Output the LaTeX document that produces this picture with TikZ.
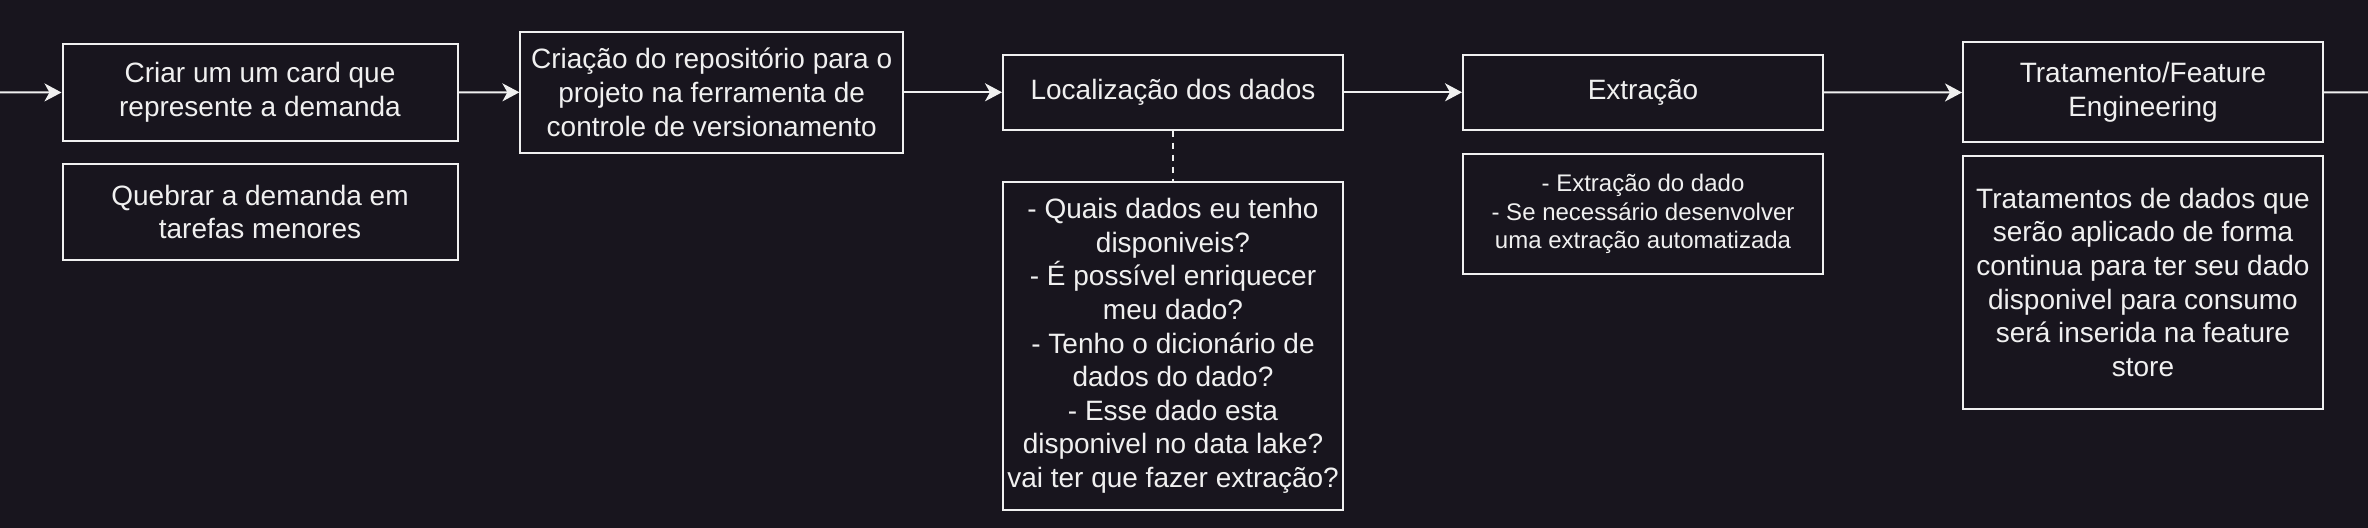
\documentclass[tikz,border=0pt]{standalone}
\usepackage{fontspec}
\setmainfont{Liberation Sans}
\usetikzlibrary{arrows.meta}
\definecolor{bg}{RGB}{24,21,30}
\definecolor{fg}{RGB}{240,240,240}
\begin{document}
\begin{tikzpicture}[x=0.5pt,y=-0.5pt,
  box/.style={draw=fg, line width=1pt, fill=bg, text=fg, inner sep=0pt, align=center,
    font=\fontsize{14}{16.8}\selectfont},
  smallbox/.style={box, font=\fontsize{12}{14.4}\selectfont},
  flow/.style={draw=fg, line width=1pt, -{Stealth[length=8.5pt,width=9pt,inset=2.5pt]}},
  plain/.style={draw=fg, line width=1pt},
  dashline/.style={draw=fg, line width=1pt, dash pattern=on 3pt off 3pt}]
\fill[bg] (0,0) rectangle (2368,528);
\useasboundingbox (0,0) rectangle (2368,528);

\node[box, minimum width=197.5pt, minimum height=48.5pt] (card) at (260,92.5)
  {Criar um um card que\\represente a demanda};
\node[box, minimum width=197.5pt, minimum height=48.2pt] (quebrar) at (260,212)
  {Quebrar a demanda em\\tarefas menores};
\node[box, minimum width=191.3pt, minimum height=60.25pt] (repo) at (711.7,92.3)
  {Criação do repositório para o\\projeto na ferramenta de\\controle de versionamento};
\node[box, minimum width=170pt, minimum height=37.3pt] (local) at (1173,92.3)
  {Localização dos dados};
\node[box, minimum width=170pt, minimum height=164pt] (localdesc) at (1173,346)
  {- Quais dados eu tenho\\disponiveis?\\- É possível enriquecer\\meu dado?\\- Tenho o dicionário de\\dados do dado?\\- Esse dado esta\\disponivel no data lake?\\vai ter que fazer extração?};
\node[box, minimum width=180pt, minimum height=37.3pt] (extr) at (1643,92.3)
  {Extração};
\node[smallbox, minimum width=180pt, minimum height=60pt] (extrdesc) at (1643,214)
  {- Extração do dado\\- Se necessário desenvolver\\uma extração automatizada};
\node[box, minimum width=180pt, minimum height=50pt] (trat) at (2143,92.5)
  {Tratamento/Feature\\Engineering};
\node[box, minimum width=180pt, minimum height=126.7pt] (tratdesc) at (2143,282.3)
  {Tratamentos de dados que\\serão aplicado de forma\\continua para ter seu dado\\disponivel para consumo\\será inserida na feature\\store};

\coordinate (start) at (0,92.3);
\coordinate (finish) at (2368,92.3);

\draw[flow] (start) -- (card.west);
\draw[flow] (card.east) -- (repo.west);
\draw[flow] (repo.east) -- (local.west);
\draw[flow] (local.east) -- (extr.west);
\draw[flow] (extr.east) -- (trat.west);
\draw[plain] (trat.east) -- (finish);
\draw[dashline] (local.south) -- (localdesc.north);
\end{tikzpicture}
\end{document}
